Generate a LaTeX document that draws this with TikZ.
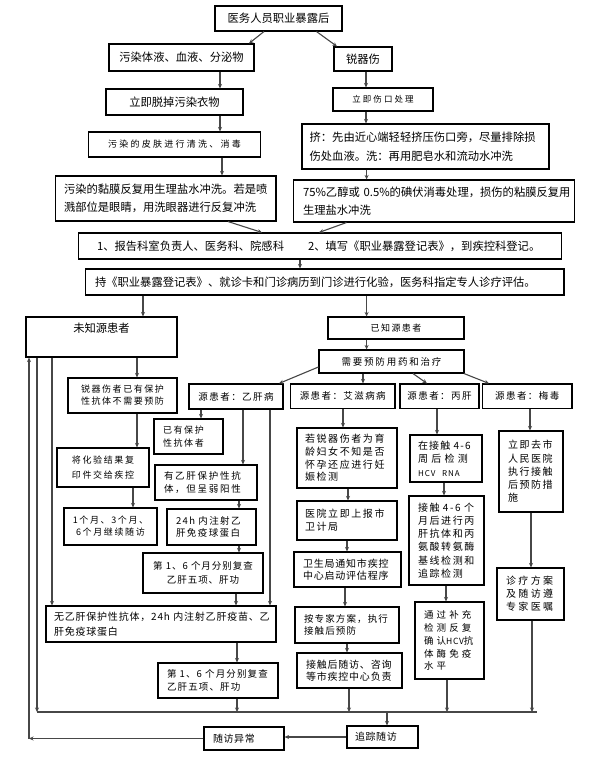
\documentclass[tikz,border=0pt]{standalone}
\usepackage{fontspec}
\setmainfont{Noto Sans CJK SC}
\usetikzlibrary{arrows.meta}
\newcommand\fs[3]{\fontsize{#1}{#2}\selectfont\addfontfeature{LetterSpace=#3}}
\newcommand\bx[8][]{%
 \pgfmathsetmacro\bw{#5-#3}%
 \pgfmathsetmacro\bh{#6-#4}%
 \pgfmathsetmacro\bcx{(#3+#5)/2}%
 \pgfmathsetmacro\bcy{(#4+#6)/2}%
 \pgfmathsetmacro\btw{#5-#3-2*#7}%
 \node[box, minimum width=\bw pt, minimum height=\bh pt, text width=\btw pt, #1] (#2) at (\bcx,\bcy) {#8};}
\newcommand\ar[4]{\draw[arr] (#1,0 |- #2) -- (#3,0 |- #4);}
\begin{document}
\begin{tikzpicture}[x=1pt,y=-1pt,
 box/.style={draw=black,line width=1.1pt,inner sep=0pt,align=left},
 arr/.style={draw=black!72,line width=1.1pt,-{Stealth[length=4.5pt,width=4pt]}},
 ln/.style={draw=black!72,line width=1.1pt}]
\useasboundingbox (0,0) rectangle (589,773);
% top part
\bx[align=center,font=\fs{11.3}{14}{0}]{top}{215}{6}{342}{31}{2}{医务人员职业暴露后}
\bx[align=center,font=\fs{11.3}{14}{0}]{wr}{109}{44}{254}{71}{2}{污染体液、血液、分泌物}
\bx[align=center,font=\fs{11.3}{14}{0}]{rq}{334}{47}{392}{71}{2}{锐器伤}
\bx[align=center,font=\fs{11.3}{14}{0}]{tt}{106}{89}{243}{115}{2}{立即脱掉污染衣物}
\bx[align=center,font=\fs{8.5}{12}{24}]{sk}{333}{88}{433}{111}{2}{立即伤口处理}
\bx[align=center,font=\fs{9}{12}{25}]{pf}{88.5}{132}{260.5}{157}{2}{污染的皮肤进行清洗、消毒}
\bx[font=\fs{11.3}{18.5}{0}]{jy}{302}{124}{549}{169}{7.6}{挤：先由近心端轻轻挤压伤口旁，尽量排除损\\伤处血液。洗：再用肥皂水和流动水冲洗}
\bx[font=\fs{11.3}{17.7}{0}]{nm}{55.5}{176}{276}{221}{8.5}{污染的黏膜反复用生理盐水冲洗。若是喷\\溅部位是眼睛，用洗眼器进行反复冲洗}
\bx[font=\fs{11.3}{17.7}{0}]{yc}{293.7}{180}{574.5}{222}{9.3}{75\%乙醇或~0.5\%的碘伏消毒处理，损伤的粘膜反复用\\生理盐水冲洗}
\bx[font=\fs{11.3}{14}{0}]{rp}{78.6}{233}{561.5}{259}{18.4}{1、报告科室负责人、医务科、院感科\kern24pt 2、填写《职业暴露登记表》，到疾控科登记。}
\bx[font=\fs{11.3}{14}{0}]{ch}{85.5}{269}{564}{295}{9.5}{持《职业暴露登记表》、就诊卡和门诊病历到门诊进行化验，医务科指定专人诊疗评估。}
% sources
\bx{unk}{26}{317}{177}{357}{2}{}
\node[font=\fs{11.3}{14}{0}] (unkt) at (101.5,328.5) {未知源患者};
\bx[align=center,font=\fs{9}{12}{16}]{kn}{328}{317}{464}{339}{2}{已知源患者}
\bx[align=center,font=\fs{9.5}{12}{19}]{xy}{319}{350}{464}{373}{2}{需要预防用药和治疗}
\bx[align=center,font=\fs{9.5}{12}{15}]{hb}{189}{384}{283}{409}{2}{源患者：乙肝病}
\bx[align=center,font=\fs{9.5}{12}{15}]{az}{290.5}{384}{395}{408.5}{2}{源患者：艾滋病病}
\bx[align=center,font=\fs{9.5}{12}{15}]{bg}{400}{384}{479}{408.5}{2}{源患者：丙肝}
\bx[align=center,font=\fs{9.5}{12}{15}]{md}{482.5}{384}{572}{408.5}{2}{源患者：梅毒}
% unknown chain
\bx[align=center,font=\fs{9}{12}{17}]{a1}{68}{378}{177}{413}{2}{锐器伤者已有保护\\性抗体不需要预防}
\bx[align=center,font=\fs{9}{15}{18}]{a2}{57}{448}{149}{487}{2}{将化验结果复\\印件交给疾控}
\bx[align=center,font=\fs{9}{12}{18}]{a3}{64}{508}{157}{545}{2}{1个月、3个月、\\6个月继续随访}
% hepatitis B chain
\bx[font=\fs{9}{12.3}{18}]{b1}{154}{419}{223}{454}{9}{已有保护\\性抗体者}
\bx[font=\fs{9.5}{12.6}{18}]{b2}{155}{465}{257}{500}{9}{有乙肝保护性抗\\体，但呈弱阳性}
\bx[font=\fs{9.5}{12.7}{15}]{b3}{167}{509}{256}{545}{9}{24h~内注射乙\\肝免疫球蛋白}
\bx[align=center,font=\fs{9.5}{14.3}{10}]{b4}{143}{553}{263}{593}{2}{第~1、6~个月分别复查\\乙肝五项、肝功}
\bx[font=\fs{10}{15}{8}]{c1}{46}{606}{276}{642}{8}{无乙肝保护性抗体，24h~内注射乙肝疫苗、乙\\肝免疫球蛋白}
\bx[font=\fs{9.5}{13}{12}]{c2}{158}{663}{278}{698}{9}{第~1、6~个月分别复查\\乙肝五项、肝功}
% HIV chain
\bx[font=\fs{10}{12.7}{16}]{d1}{297}{428}{397}{488}{8}{若锐器伤者为育\\龄妇女不知是否\\怀孕还应进行妊\\娠检测}
\bx[font=\fs{10}{13.3}{16}]{d2}{297}{501}{397}{540}{8}{医院立即上报市\\卫计局}
\bx[font=\fs{10}{12.3}{8}]{d3}{294}{552}{401}{587}{9}{卫生局通知市疾控\\中心启动评估程序}
\bx[font=\fs{9.5}{12.7}{12}]{d4}{295}{607}{399}{643}{9}{按专家方案，执行\\接触后预防}
\bx[font=\fs{10}{12.3}{8}]{d5}{297}{653}{402}{688}{9}{接触后随访、咨询\\等市疾控中心负责}
% HCV chain
\bx[font=\fs{10}{13.5}{12}]{e1}{410}{435}{482}{482}{8}{在接触~4-6\\周~后~检~测\\{\fontsize{8}{13.5}\selectfont HCV~~RNA}}
\bx[font=\fs{10}{13.2}{16}]{e2}{409}{496}{484}{585}{9}{接触~4-6~个\\月后进行丙\\肝抗体和丙\\氨酸转氨酶\\基线检测和\\追踪检测}
\bx[font=\fs{9.5}{12.9}{8}]{e3}{415}{602}{484}{679}{9}{通~过~补~充\\检~测~反~复\\确~认{\fontsize{8.5}{12.9}\selectfont HCV}抗\\体~酶~免~疫\\水~平}
% syphilis chain
\bx[font=\fs{10}{13.3}{15}]{f1}{499}{431}{563}{512}{9}{立即去市\\人民医院\\执行接触\\后预防措\\施}
\bx[font=\fs{10}{13}{24}]{f2}{497}{568}{564}{620}{9}{诊疗方案\\及随访遵\\专家医嘱}
% bottom
\bx[font=\fs{10}{13}{6}]{ya}{204}{727}{284}{750}{9}{随访异常}
\bx[font=\fs{10}{13}{6}]{zz}{347}{726}{418}{748}{8}{追踪随访}
% connectors top
\ar{264}{top.south}{249}{wr.north}
\ar{316.5}{top.south}{337}{rq.north}
\ar{220}{wr.south}{220}{tt.north}
\ar{366}{rq.south}{366}{sk.north}
\ar{366}{sk.south}{366}{jy.north}
\ar{220}{tt.south}{220}{pf.north}
\ar{222}{pf.south}{222}{nm.north}
\ar{366.6}{jy.south}{366.6}{yc.north}
\ar{228}{nm.south}{262}{rp.north}
\ar{346.5}{yc.south}{319}{rp.north}
\ar{300}{rp.south}{300}{ch.north}
\ar{143}{ch.south}{143}{unk.north}
\ar{366.6}{ch.south}{366.6}{kn.north}
\ar{366.6}{kn.south}{366.6}{xy.north}
\draw[arr] ([yshift=-5.5pt]xy.west) -- (279,0 |- hb.north);
\ar{363}{xy.south}{363}{az.north}
\ar{413}{xy.south}{427}{bg.north}
\ar{464}{xy.south}{489}{md.north}
% unknown chain
\ar{137}{unk.south}{137}{a1.north}
\ar{137}{a1.south}{137}{a2.north}
\ar{133}{a2.south}{133}{a3.north}
% HBV chain
\ar{201}{hb.south}{201}{b1.north}
\ar{243}{hb.south}{243}{b2.north}
\ar{239}{b2.south}{239}{b3.north}
\ar{239}{b3.south}{239}{b4.north}
\ar{270}{hb.south}{270}{c1.north}
\ar{236}{b4.south}{236}{c1.north}
\ar{237}{c1.south}{237}{c2.north}
\ar{52}{unk.south}{52}{c1.north}
% HIV chain
\ar{343}{az.south}{343}{d1.north}
\ar{348}{d1.south}{348}{d2.north}
\ar{347}{d2.south}{347}{d3.north}
\ar{345}{d3.south}{345}{d4.north}
\ar{347}{d4.south}{347}{d5.north}
% HCV chain
\ar{437}{bg.south}{437}{e1.north}
\ar{444}{e1.south}{444}{e2.north}
\ar{446}{e2.south}{446}{e3.north}
% syphilis chain
\ar{530}{md.south}{530}{f1.north}
\ar{531}{f1.south}{531}{f2.north}
% collector
\coordinate (cl) at (37,712);
\coordinate (cr) at (537,712);
\draw[ln] (cl) -- (cr);
\draw[arr] (37,0 |- unk.south) -- (cl);
\ar{237}{c2.south}{237}{cl}
\ar{349}{d5.south}{349}{cl}
\ar{447}{e3.south}{447}{cl}
\ar{532}{f2.south}{532}{cl}
\ar{387}{cl}{387}{zz.north}
\draw[arr] (zz.west) -- (zz.west -| ya.east);
\coordinate (lc) at (29,738.5);
\draw[arr] (ya.west) -- (lc);
\draw[arr] (lc) -- (29,0 |- unk.south);
\end{tikzpicture}
\end{document}
